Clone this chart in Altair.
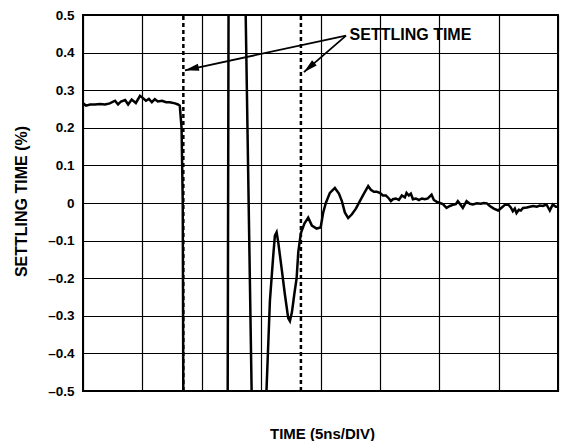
import altair as alt
import pandas as pd

# Trace: time in divisions (5 ns/div), settling error in %
trace_t = [0.0, 0.05, 0.12, 0.20, 0.29, 0.37, 0.45, 0.54, 0.59, 0.64, 0.71, 0.76, 0.82, 0.89,
           0.96, 1.01, 1.06, 1.11, 1.16, 1.21, 1.26, 1.33, 1.40, 1.46, 1.55, 1.60, 1.63, 1.66,
           1.68, 1.69, 1.80, 2.31, 2.434, 2.454, 2.51, 2.64, 2.73, 2.85, 2.95, 3.05, 3.09,
           3.148, 3.204, 3.232, 3.261, 3.288, 3.345, 3.401, 3.456, 3.485, 3.519, 3.561, 3.598,
           3.626, 3.670, 3.729, 3.793, 3.855, 3.934, 4.002, 4.045, 4.09, 4.158, 4.242, 4.31,
           4.36, 4.41, 4.466, 4.529, 4.596, 4.663, 4.731, 4.803, 4.848, 4.899, 4.949, 5.0,
           5.051, 5.101, 5.152, 5.185, 5.219, 5.269, 5.32, 5.37, 5.421, 5.449, 5.488, 5.522,
           5.556, 5.606, 5.657, 5.707, 5.758, 5.808, 5.871, 5.909, 5.96, 6.01, 6.061, 6.123,
           6.178, 6.229, 6.279, 6.313, 6.347, 6.397, 6.46, 6.515, 6.566, 6.633, 6.7, 6.751,
           6.801, 6.852, 6.919, 6.992, 7.054, 7.104, 7.16, 7.205, 7.239, 7.273, 7.301, 7.34,
           7.374, 7.412, 7.475, 7.525, 7.581, 7.643, 7.694, 7.744, 7.806, 7.862, 7.912, 7.963,
           8.0]
trace_v = [0.265, 0.259, 0.262, 0.262, 0.263, 0.262, 0.265, 0.272, 0.262, 0.27, 0.274, 0.262,
           0.275, 0.266, 0.285, 0.279, 0.272, 0.277, 0.268, 0.276, 0.27, 0.272, 0.268, 0.268,
           0.265, 0.262, 0.259, 0.2, 0.0, -0.55, -1.2, -1.3, -0.7, 0.7, 1.3, 1.3, 0.6, -0.6,
           -1.3, -1.0, -0.5,
           -0.26, -0.14, -0.087, -0.078, -0.104, -0.174, -0.244, -0.306, -0.314, -0.29, -0.24,
           -0.2, -0.13, -0.08, -0.055, -0.039, -0.06, -0.068, -0.065, -0.026, 0.0, 0.027, 0.04,
           0.025, 0.005, -0.025, -0.04, -0.03, -0.015, 0.005, 0.025, 0.045, 0.035, 0.03, 0.03,
           0.027, 0.02, 0.02, 0.012, 0.005, 0.01, 0.012, 0.008, 0.02, 0.015, 0.027, 0.02, 0.025,
           0.01, 0.012, 0.008, 0.012, 0.01, 0.012, 0.022, 0.008, 0.003, 0.0, -0.003, -0.013,
           -0.008, -0.005, -0.003, 0.005, -0.002, -0.013, 0.005, -0.002, -0.004, -0.001, -0.002,
           0.0, -0.001, -0.008, -0.015, -0.02, -0.012, -0.005, -0.004, -0.012, -0.022, -0.015,
           -0.027, -0.018, -0.02, -0.013, -0.012, -0.01, -0.008, -0.01, -0.007, -0.008, -0.004,
           -0.02, -0.004, -0.01, -0.01]

settle_t = [1.69, 3.67]           # dashed settling-time markers (div)
y_ticks = [-0.5, -0.4, -0.3, -0.2, -0.1, 0.0, 0.1, 0.2, 0.3, 0.4, 0.5]
x_ticks = [0, 1, 2, 3, 4, 5, 6, 7, 8]

label_text = "SETTLING TIME"
label_pos = (4.49, 0.447)
arrow_start = (4.43, 0.445)
arrow_tips_t = [1.717, 3.72]
arrow_tips_v = [0.353, 0.348]
arrow_angles = [257.7, 228.6]

FONT = "Liberation Sans"

trace = pd.DataFrame({"t": trace_t, "v": trace_v, "i": range(len(trace_t))})
settle = pd.DataFrame({"t": settle_t, "lo": [-0.5] * 2, "hi": [0.5] * 2})
arrows = pd.DataFrame({"t0": [arrow_start[0]] * 2, "v0": [arrow_start[1]] * 2,
                       "t1": arrow_tips_t, "v1": arrow_tips_v, "ang": arrow_angles})
label = pd.DataFrame({"t": [label_pos[0]], "v": [label_pos[1]], "txt": [label_text]})

xs = alt.Scale(domain=[0, 8], nice=False, zero=False)
ys = alt.Scale(domain=[-0.5, 0.5], nice=False, zero=False)

label_expr = ("abs(datum.value) < 1e-9 ? '0' : (datum.value < 0 ? '\u2013' + format(-datum.value, '.1f')"
              " : format(datum.value, '.1f'))")

x_axis = alt.Axis(values=x_ticks, labels=False, ticks=False, domain=False, grid=True,
                  title="TIME (5ns/DIV)", titleX=239, titleY=42, titleAlign="center",
                  titleBaseline="middle", titleFont=FONT, titleFontSize=15, titleFontWeight="bold",
                  titleColor="black")
y_axis = alt.Axis(values=y_ticks, ticks=False, domain=False, grid=True, labelExpr=label_expr,
                  labelFont=FONT, labelFontSize=13.5, labelFontWeight="bold", labelColor="black",
                  labelPadding=9, labelOverlap=False, labelBound=False,
                  title="SETTLING TIME (%)", titleX=-62,
                  titleY=186, titleAlign="center", titleBaseline="middle", titleAngle=-90,
                  titleFont=FONT, titleFontSize=16, titleFontWeight="bold", titleColor="black")


def X(field):
    return alt.X(field, scale=xs, axis=x_axis, title="TIME (5ns/DIV)")


def Y(field):
    return alt.Y(field, scale=ys, axis=y_axis, title="SETTLING TIME (%)")


base_line = alt.Chart(trace).mark_line(color="black", strokeWidth=2.5, clip=True).encode(
    x=X("t:Q"), y=Y("v:Q"), order="i:Q",
)

dashed = alt.Chart(settle).mark_rule(color="black", strokeWidth=2.5, strokeDash=[4, 3]).encode(
    x=X("t:Q"), y=Y("lo:Q"), y2="hi:Q"
)

arrow_lines = alt.Chart(arrows).mark_rule(color="black", strokeWidth=1.8).encode(
    x=X("t0:Q"), y=Y("v0:Q"), x2="t1:Q", y2="v1:Q"
)

arrow_heads = alt.Chart(arrows).mark_point(
    shape="M0,0L-0.5,2L0.5,2Z", filled=True, color="black", opacity=1, size=196, strokeWidth=0
).encode(
    x=X("t1:Q"), y=Y("v1:Q"), angle=alt.Angle("ang:Q", scale=None)
)

text = alt.Chart(label).mark_text(align="left", baseline="middle", font=FONT, fontSize=16,
                                  fontWeight="bold", color="black").encode(
    x=X("t:Q"), y=Y("v:Q"), text="txt:N"
)

chart = alt.layer(base_line, dashed, arrow_lines, arrow_heads, text).properties(
    width=475, height=376,
    autosize=alt.AutoSizeParams(type="none"),
    padding={"left": 75, "top": 7, "right": 4, "bottom": 50},
).configure_view(stroke="black", strokeWidth=2).configure_axis(
    gridColor="black", gridWidth=1.2, gridOpacity=1, labelOverlap=False
)

chart.save("out.html", embed_options={"renderer": "svg", "actions": False})
